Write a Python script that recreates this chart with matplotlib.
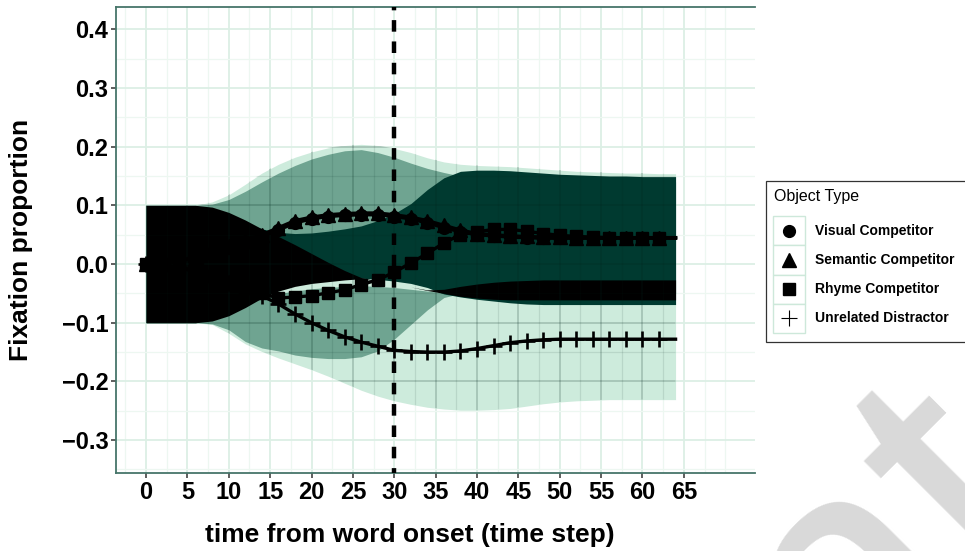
import numpy as np
import matplotlib
matplotlib.use("Agg")
import matplotlib.pyplot as plt
from matplotlib.lines import Line2D
from matplotlib.patches import Rectangle
from matplotlib.ticker import FixedLocator, FuncFormatter

FIG_W, FIG_H, DPI = 965, 551, 100

plt.rcParams["font.family"] = ["Liberation Sans", "DejaVu Sans"]
plt.rcParams["font.weight"] = "bold"

# time steps (every 2nd step from word onset)
time = list(range(0, 65, 2))

# mean fixation proportion per object type
visual = [0, 0.002, 0.005, 0.011, 0.018, 0.027, 0.037, 0.047, 0.058, 0.070, 0.077,
          0.081, 0.083, 0.084, 0.084, 0.081, 0.077, 0.070, 0.062, 0.055, 0.050,
          0.048, 0.046, 0.045, 0.044, 0.044, 0.044, 0.044, 0.044, 0.044, 0.044,
          0.044, 0.044]
semantic = [0, 0.002, 0.006, 0.012, 0.020, 0.030, 0.040, 0.050, 0.062, 0.074, 0.080,
            0.084, 0.086, 0.087, 0.087, 0.084, 0.080, 0.074, 0.066, 0.058, 0.052,
            0.050, 0.048, 0.047, 0.046, 0.046, 0.045, 0.045, 0.045, 0.045, 0.045,
            0.045, 0.045]
rhyme = [0, -0.002, -0.006, -0.012, -0.020, -0.030, -0.040, -0.050, -0.058, -0.056,
         -0.054, -0.049, -0.044, -0.035, -0.027, -0.014, 0.002, 0.018, 0.036, 0.050,
         0.055, 0.059, 0.059, 0.056, 0.052, 0.049, 0.047, 0.046, 0.045, 0.045, 0.045,
         0.045, 0.045]
unrelated = [0, -0.002, -0.006, -0.013, -0.022, -0.032, -0.043, -0.054, -0.068, -0.085,
             -0.100, -0.113, -0.124, -0.133, -0.140, -0.147, -0.149, -0.150, -0.150,
             -0.148, -0.144, -0.139, -0.134, -0.131, -0.129, -0.128, -0.128, -0.128,
             -0.128, -0.128, -0.128, -0.128, -0.128]

# uncertainty bands (lower / upper edges), drawn back to front
outer_hi = [0.1, 0.1, 0.1, 0.1, 0.106, 0.118, 0.136, 0.155, 0.170, 0.182, 0.191, 0.198,
            0.202, 0.204, 0.202, 0.197, 0.190, 0.181, 0.174, 0.170, 0.168, 0.167, 0.166,
            0.164, 0.162, 0.160, 0.158, 0.157, 0.156, 0.155, 0.155, 0.154, 0.154]
outer_lo = [-0.1, -0.1, -0.1, -0.1, -0.103, -0.118, -0.136, -0.149, -0.160, -0.170,
            -0.180, -0.191, -0.203, -0.215, -0.225, -0.233, -0.239, -0.244, -0.247,
            -0.249, -0.249, -0.248, -0.246, -0.242, -0.238, -0.235, -0.233, -0.232,
            -0.231, -0.231, -0.231, -0.231, -0.231]
mid_hi = [0.1, 0.1, 0.1, 0.1, 0.102, 0.110, 0.124, 0.140, 0.155, 0.168, 0.179, 0.187,
          0.193, 0.195, 0.190, 0.182, 0.172, 0.163, 0.156, 0.150, 0.140, 0.140, 0.140,
          0.140, 0.140, 0.140, 0.140, 0.140, 0.140, 0.140, 0.140, 0.140, 0.140]
mid_lo = [-0.1, -0.1, -0.1, -0.1, -0.102, -0.112, -0.132, -0.143, -0.148, -0.155,
          -0.159, -0.161, -0.161, -0.158, -0.148, -0.128, -0.103, -0.078, -0.057,
          -0.050, -0.050, -0.050, -0.050, -0.050, -0.050, -0.050, -0.050, -0.050,
          -0.050, -0.050, -0.050, -0.050, -0.050]
strip_hi = [-0.05, -0.05, -0.05, -0.05, -0.05, -0.05, -0.05, -0.02, -0.02, -0.02,
            -0.02, -0.02, -0.02, -0.02, -0.02, -0.02, -0.02, -0.02, -0.02, -0.02,
            -0.05, -0.05, -0.05, -0.05, -0.05, -0.05, -0.05, -0.05, -0.05, -0.05,
            -0.05, -0.05, -0.05]
strip_lo = [-0.05, -0.05, -0.05, -0.05, -0.05, -0.05, -0.05, -0.056, -0.050, -0.046,
            -0.042, -0.040, -0.038, -0.037, -0.038, -0.040, -0.043, -0.046, -0.049,
            -0.053, -0.05, -0.05, -0.05, -0.05, -0.05, -0.05, -0.05, -0.05, -0.05,
            -0.05, -0.05, -0.05, -0.05]
inner_hi = [0.1, 0.1, 0.1, 0.1, 0.090, 0.080, 0.070, 0.060, 0.054, 0.052, 0.053, 0.056,
            0.060, 0.065, 0.074, 0.086, 0.103, 0.127, 0.147, 0.158, 0.160, 0.160, 0.159,
            0.157, 0.155, 0.153, 0.152, 0.151, 0.150, 0.150, 0.149, 0.149, 0.149]
inner_lo = [-0.1, -0.1, -0.1, -0.1, -0.090, -0.080, -0.065, -0.052, -0.042, -0.035,
            -0.030, -0.027, -0.025, -0.024, -0.026, -0.029, -0.033, -0.040, -0.051,
            -0.056, -0.060, -0.063, -0.066, -0.068, -0.069, -0.069, -0.069, -0.069,
            -0.069, -0.069, -0.069, -0.069, -0.069]
core_hi = [0.1, 0.1, 0.1, 0.1, 0.097, 0.088, 0.075, 0.060, 0.047, 0.033, 0.018, 0.003,
           -0.011, -0.023, -0.029, -0.034, -0.039, -0.044, -0.043, -0.038, -0.034,
           -0.031, -0.029, -0.028, -0.027, -0.027, -0.027, -0.027, -0.027, -0.027,
           -0.027, -0.027, -0.027]
core_lo = [-0.1, -0.1, -0.1, -0.1, -0.097, -0.088, -0.074, -0.058, -0.046, -0.038,
           -0.033, -0.030, -0.027, -0.025, -0.029, -0.034, -0.039, -0.045, -0.050,
           -0.055, -0.058, -0.060, -0.061, -0.061, -0.061, -0.061, -0.061, -0.061,
           -0.061, -0.061, -0.061, -0.061, -0.061]

object_types = ["Visual Competitor", "Semantic Competitor",
                "Rhyme Competitor", "Unrelated Distractor"]
x_ticks = list(range(0, 66, 5))
y_ticks = [-0.3, -0.2, -0.1, 0.0, 0.1, 0.2, 0.3, 0.4]
word_onset_marker = 30

series = [visual, semantic, rhyme, unrelated]
marker_style = [("o", 8.5, 1.0), ("^", 9.5, 1.0), ("s", 8.0, 1.0), ("+", 11.0, 1.9)]

fig = plt.figure(figsize=(FIG_W / DPI, FIG_H / DPI), dpi=DPI)
fig.patch.set_facecolor("white")


def px(x, y):
    return x / FIG_W, 1 - y / FIG_H


ax = fig.add_axes([116 / FIG_W, 78 / FIG_H, 639 / FIG_W, 466 / FIG_H])
ax.set_xlim(-3.63, 73.6)
ax.set_ylim(-0.356, 0.438)

# grid
x_minor = [v + 2.5 for v in range(-5, 70, 5)] + [70]
y_minor = [round(v + 0.05, 2) for v in y_ticks] + [-0.35]
ax.xaxis.set_major_locator(FixedLocator(x_ticks))
ax.yaxis.set_major_locator(FixedLocator(y_ticks))
ax.xaxis.set_minor_locator(FixedLocator(x_minor))
ax.yaxis.set_minor_locator(FixedLocator(y_minor))
ax.set_axisbelow(True)
ax.grid(which="major", color="#dcefe5", lw=1.3)
ax.grid(which="minor", color="#edf7f1", lw=0.9)
ax.yaxis.set_major_formatter(FuncFormatter(lambda v, p: f"{v:.1f}".replace("-", "\u2212")))

# bands
band_colors = ["#cdebdc", "#6fa491", "#cdebdc", "#003a30", "#000000"]
bands = [(outer_lo, outer_hi), (mid_lo, mid_hi), (strip_lo, strip_hi),
         (inner_lo, inner_hi), (core_lo, core_hi)]
polys = []
for (lo, hi), c in zip(bands, band_colors):
    polys.append(ax.fill_between(time, lo, hi, color=c, lw=0, zorder=2))

# grid lines seen through the bands
clip = polys[0].get_paths()[0]
for xv in x_ticks + [70]:
    ln = ax.axvline(xv, color="#00251c", alpha=0.2, lw=1.3, zorder=2.5)
    ln.set_clip_path(clip, ax.transData)
for xv in x_minor:
    ln = ax.axvline(xv, color="#00251c", alpha=0.1, lw=0.9, zorder=2.5)
    ln.set_clip_path(clip, ax.transData)
for yv in y_ticks:
    ln = ax.axhline(yv, color="#00251c", alpha=0.2, lw=1.3, zorder=2.5)
    ln.set_clip_path(clip, ax.transData)
for yv in y_minor:
    ln = ax.axhline(yv, color="#00251c", alpha=0.1, lw=0.9, zorder=2.5)
    ln.set_clip_path(clip, ax.transData)

# mean lines with markers
for vals, (m, ms, mew) in zip(series, marker_style):
    ax.plot(time, vals, color="black", lw=2.4, marker=m, ms=ms, mew=mew,
            markevery=slice(0, len(time) - 1), zorder=4)

ax.axvline(word_onset_marker, color="black", lw=3.2, linestyle=(1.5, (2.6, 2.2)), zorder=5)

# axes styling
for side in ["left", "top", "bottom"]:
    ax.spines[side].set_color("#46756a")
    ax.spines[side].set_linewidth(1.3)
ax.spines["right"].set_visible(False)
ax.tick_params(which="major", length=3.5, width=1.1, color="#333333",
               labelsize=17, pad=2)
ax.tick_params(which="minor", length=0)

fig.text(*px(410, 535), "time from word onset (time step)", fontsize=19,
         ha="center", va="center")
fig.text(*px(21, 240), "Fixation proportion", fontsize=19, rotation=90,
         ha="center", va="center")

# legend
fig.add_artist(Rectangle(px(766, 342), 215 / FIG_W, 161 / FIG_H,
                         transform=fig.transFigure, facecolor="white",
                         edgecolor="#333333", lw=0.9, zorder=6))
fig.text(*px(774, 197), "Object Type", fontsize=11.5, fontweight="normal",
         ha="left", va="center", zorder=7)
legend_marks = [("o", 8.5, 1.0), ("^", 10.0, 1.0), ("s", 8.0, 1.0), ("+", 12.0, 0.8)]
for i, (label, (m, ms, mew)) in enumerate(zip(object_types, legend_marks)):
    cy = 231 + 29 * i
    fig.add_artist(Rectangle(px(773, cy + 14.5), 32 / FIG_W, 29 / FIG_H,
                             transform=fig.transFigure, facecolor="white",
                             edgecolor="#cde8da", lw=1.0, zorder=7))
    mx, my = px(789, cy)
    fig.add_artist(Line2D([mx], [my], marker=m, ms=ms, mew=mew, color="black",
                          linestyle="none", transform=fig.transFigure, zorder=8))
    fig.text(*px(815, cy), label, fontsize=10, ha="left", va="center", zorder=8)

# watermark
fig.text(*px(1066, 509), "Preprint", fontsize=270, fontweight="normal",
         color="#d9d9d9", rotation=45, rotation_mode="anchor",
         ha="right", va="baseline", zorder=1)

fig.savefig("out.png", dpi=DPI)
